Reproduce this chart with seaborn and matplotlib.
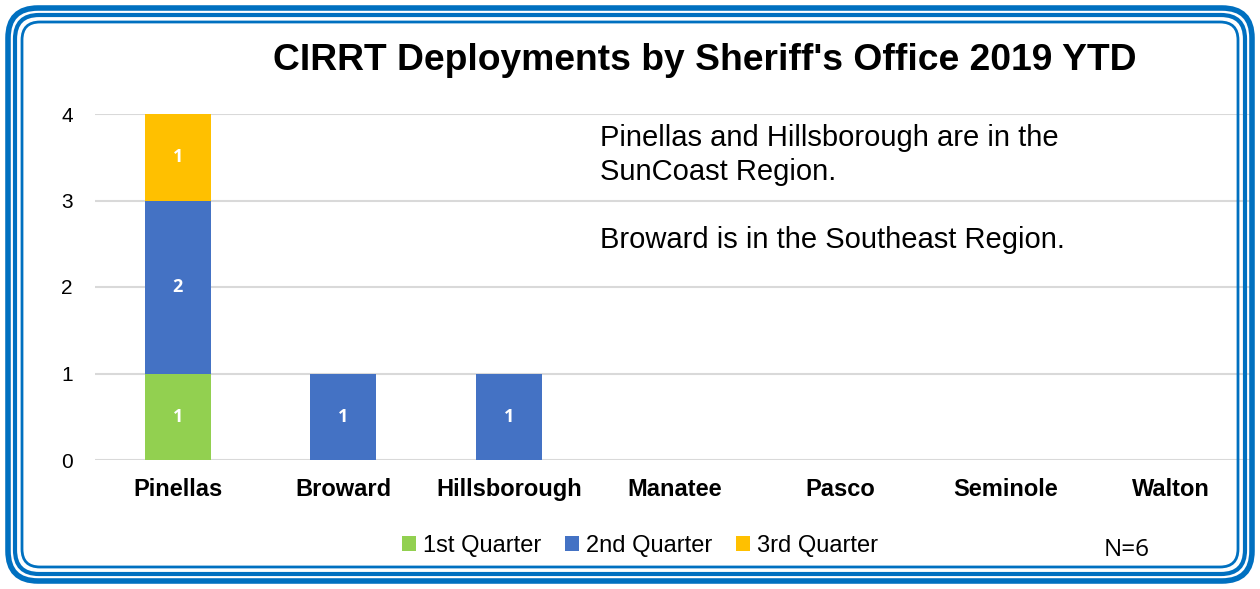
import matplotlib
matplotlib.use("Agg")
import matplotlib.pyplot as plt
import seaborn as sns
import pandas as pd
import numpy as np
from matplotlib.patches import FancyBboxPatch, Patch

categories = ["Pinellas", "Broward", "Hillsborough", "Manatee", "Pasco", "Seminole", "Walton"]
q1 = [1, 0, 0, 0, 0, 0, 0]
q2 = [2, 1, 1, 0, 0, 0, 0]
q3 = [1, 0, 0, 0, 0, 0, 0]
series_names = ["1st Quarter", "2nd Quarter", "3rd Quarter"]
colors = ["#92d050", "#4472c4", "#ffc000"]
yticks = [0, 1, 2, 3, 4]

sns.set_theme(style="white")
plt.rcParams["font.family"] = ["Liberation Sans", "DejaVu Sans"]
plt.rcParams["text.color"] = "black"
plt.rcParams["xtick.color"] = "black"
plt.rcParams["ytick.color"] = "black"

W, H = 1260, 589
fig = plt.figure(figsize=(W / 100, H / 100), dpi=100)
fig.patch.set_facecolor("white")

ax = fig.add_axes([95 / W, 1 - 460 / H, 1159 / W, 346 / H])
ax.set_facecolor("none")

df = pd.DataFrame({"cat": categories, "q1": q1, "q2": q2, "q3": q3})
df["c1"] = df["q1"]
df["c2"] = df["q1"] + df["q2"]
df["c3"] = df["q1"] + df["q2"] + df["q3"]

for col, color in zip(["c3", "c2", "c1"], colors[::-1]):
    sns.barplot(data=df, x="cat", y=col, order=categories, color=color,
                width=0.4, saturation=1, ax=ax, zorder=3, linewidth=0)

# segment labels
for i, cat in enumerate(categories):
    base = 0
    for val in (q1[i], q2[i], q3[i]):
        if val > 0:
            ax.text(i, base + val / 2, f"{val}", ha="center", va="center",
                    color="white", fontsize=13, fontweight="bold", zorder=5,
                    family=["Open Sans", "DejaVu Sans"])
        base += val

ax.set_ylim(0, 4)
ax.set_xlim(-0.5, len(categories) - 0.5)
ax.set_yticks(yticks)
ax.set_yticklabels([str(t) for t in yticks], fontsize=15)
ax.set_xticks(range(len(categories)))
ax.set_xticklabels(categories, fontsize=17, fontweight="bold")
ax.tick_params(axis="y", length=0, pad=16)
ax.tick_params(axis="x", length=0, pad=13)
ax.set_xlabel("")
ax.set_ylabel("")
ax.yaxis.grid(True, color="#d9d9d9", linewidth=1.5, zorder=0)
ax.set_axisbelow(True)
for s in ax.spines.values():
    s.set_visible(False)

fig.text(705 / W, 1 - 61 / H, "CIRRT Deployments by Sheriff's Office 2019 YTD",
         ha="center", va="center", fontsize=26.8, fontweight="bold")

fig.text(600 / W, 1 - 155 / H, "Pinellas and Hillsborough are in the\nSunCoast Region.",
         ha="left", va="center", fontsize=21, linespacing=1.3)
fig.text(600 / W, 1 - 240 / H, "Broward is in the Southeast Region.",
         ha="left", va="center", fontsize=21)

handles = [Patch(facecolor=c, edgecolor="none") for c in colors]
fig.legend(handles, series_names, loc="center", bbox_to_anchor=(640 / W, 1 - 546 / H),
           ncol=3, frameon=False, fontsize=17, handlelength=0.6, handleheight=0.6,
           handletextpad=0.3, columnspacing=1.0)

fig.text(1127 / W, 1 - 550 / H, "N=6", ha="center", va="center", fontsize=17.5,
         family=["Open Sans", "DejaVu Sans"])

# decorative rounded border
bax = fig.add_axes([0, 0, 1, 1], zorder=10)
bax.set_xlim(0, W)
bax.set_ylim(0, H)
bax.set_axis_off()
bax.patch.set_alpha(0)
blue = "#0070c0"
for inset, lw, rad in [(8, 4.0, 30), (15, 3.0, 24), (22, 2.0, 18)]:
    bax.add_patch(FancyBboxPatch((inset, inset), W - 2 * inset, H - 2 * inset,
                                 boxstyle=f"round,pad=0,rounding_size={rad}",
                                 fill=False, edgecolor=blue, linewidth=lw))

fig.savefig("out.png", dpi=100)
